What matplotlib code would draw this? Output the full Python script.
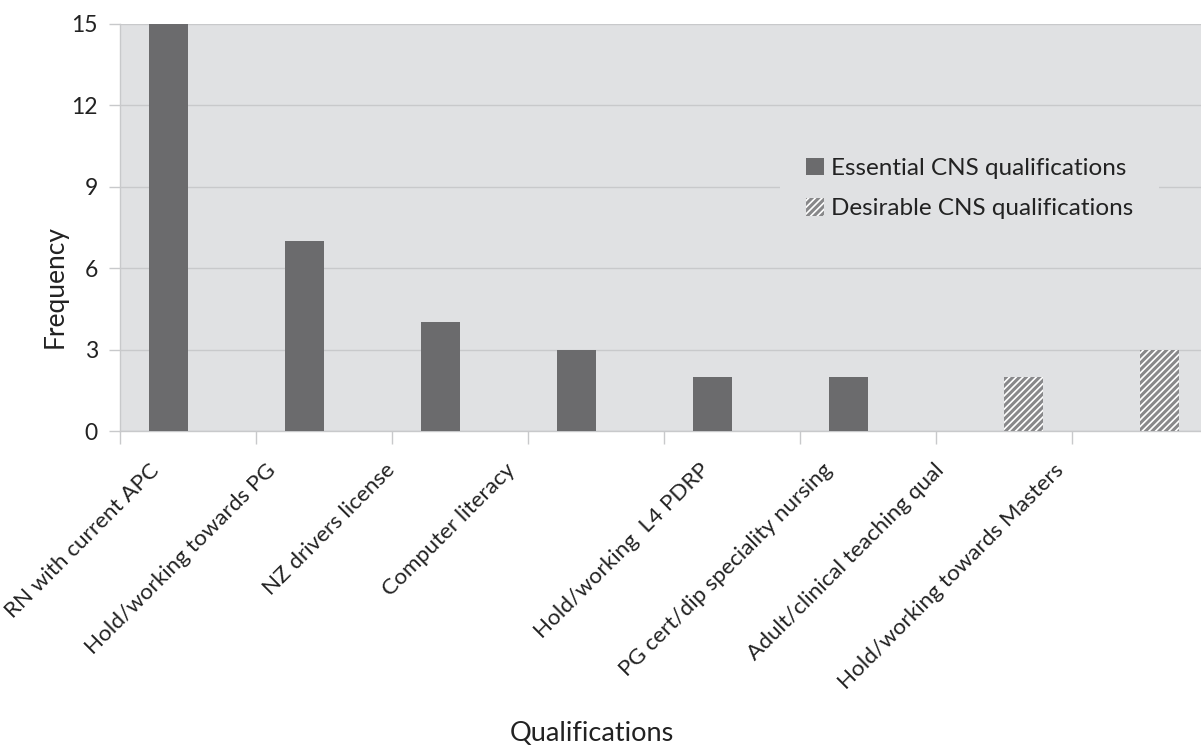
import matplotlib
matplotlib.use("Agg")
import matplotlib.pyplot as plt
import matplotlib.transforms as mtransforms
import numpy as np

plt.rcParams['font.family'] = ['Lato', 'DejaVu Sans']
plt.rcParams['hatch.linewidth'] = 1.2

# data
categories = ["RN with current APC", "Hold/working towards PG", "NZ drivers license",
              "Computer literacy", "Hold/working  L4 PDRP", "PG cert/dip speciality nursing",
              "Adult/clinical teaching qual", "Hold/working towards Masters"]
essential = [15, 7, 4, 3, 2, 2, 0, 0]
desirable = [0, 0, 0, 0, 0, 0, 2, 3]
yticks = [0, 3, 6, 9, 12, 15]

# horizontal nudge (px) of each rotated label, as placed in the original
label_nudge = [-39, -58, -75, -91, -33, -46, -70, -86]

bg = '#e0e1e3'
bar_col = '#6b6b6d'
grid_col = '#c8c9cb'
txt_col = '#222222'

fig = plt.figure(figsize=(12.01, 7.46), dpi=100, facecolor='white')
ax = fig.add_axes([120 / 1201, 315 / 746, 1088 / 1201, 407 / 746])
ax.set_facecolor(bg)

x = np.arange(len(categories))
w = 0.287
ax.bar(x[:6] - w / 2, essential[:6], width=w, color=bar_col, zorder=3,
       label='Essential CNS qualifications')
ax.bar(x[6:] + w / 2, desirable[6:], width=w, color='#88888a', edgecolor='white',
       linewidth=0, hatch='/////', zorder=3, label='Desirable CNS qualifications')

ax.set_xlim(-0.5, len(categories) - 0.5)
ax.set_ylim(0, 15)
ax.set_yticks(yticks)
ax.yaxis.grid(True, color=grid_col, linewidth=1)
ax.set_axisbelow(True)

# boundaries between categories carry the tick marks
ax.set_xticks(np.arange(len(categories) + 1) - 0.5)
ax.set_xticklabels([])
ax.tick_params(axis='x', length=9, color=grid_col, width=1)
ax.tick_params(axis='y', length=8, color=grid_col, width=1, labelsize=16.5,
               labelcolor=txt_col, pad=8)

for s in ['top', 'right']:
    ax.spines[s].set_visible(False)
for s in ['left', 'bottom']:
    ax.spines[s].set_color(grid_col)
    ax.spines[s].set_linewidth(1)

# rotated category labels
base = mtransforms.blended_transform_factory(ax.transData, ax.transAxes)
for i, lab in enumerate(categories):
    shift = mtransforms.ScaledTranslation(label_nudge[i] / 100, -29 / 100, fig.dpi_scale_trans)
    ax.text(i, 0, lab, transform=base + shift, rotation=45, rotation_mode='anchor',
            ha='right', va='top', fontsize=16.2, color=txt_col)

ax.set_ylabel('Frequency', fontsize=19, color=txt_col)
ax.yaxis.set_label_coords(-0.048, 0.356)
ax.set_xlabel('Qualifications', fontsize=19.5, color=txt_col, va='top')
ax.xaxis.set_label_coords(0.434, -0.712)

leg = ax.legend(loc='center', bbox_to_anchor=(0.781, 0.596), fontsize=17.5,
                frameon=True, facecolor=bg, edgecolor='none', framealpha=1,
                handlelength=0.75, handleheight=0.75, handletextpad=0.3,
                labelspacing=0.78, borderpad=1.05, borderaxespad=0)
for t in leg.get_texts():
    t.set_color(txt_col)

fig.savefig('out.png', dpi=100, facecolor='white')
